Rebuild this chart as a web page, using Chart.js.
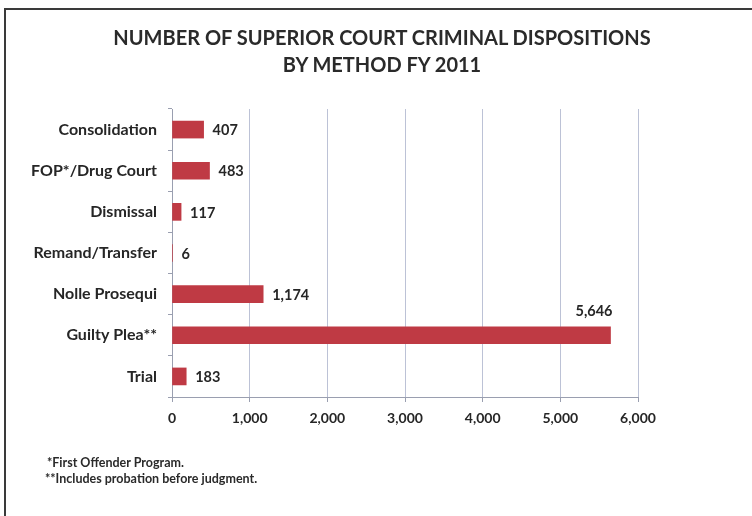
<!DOCTYPE html>
<html>
<head>
<meta charset="utf-8">
<script src="https://cdn.jsdelivr.net/npm/chart.js@4"></script>
<style>
    html, body { margin: 0; padding: 0; background: #fff; }
    #wrap { position: relative; width: 752px; height: 516px; overflow: hidden; }
    #frame { position: absolute; left: 4px; top: 8px; width: 800px; height: 520px;
             border-left: 2px solid #3a3a3a; border-top: 2px solid #3a3a3a; }
    canvas { position: absolute; left: 0; top: 0; }
    #title { position: absolute; left: 82px; width: 600px; top: 24px; text-align: center;
             font-family: Lato, sans-serif; font-weight: bold; font-size: 20px; line-height: 27px;
             color: #2a2a2a; white-space: nowrap; }
    .note { position: absolute; font-family: Lato, sans-serif; font-weight: bold;
            font-size: 12.5px; color: #2a2a2a; white-space: nowrap; }
</style>
</head>
<body>
<div id="wrap">
    <div id="frame"></div>
    <canvas id="courtChart" width="752" height="516"></canvas>
    <div id="title">NUMBER OF SUPERIOR COURT CRIMINAL DISPOSITIONS<br>BY METHOD FY 2011</div>
    <div class="note" style="left:47px; top:455px;">*First Offender Program.</div>
    <div class="note" style="left:45px; top:471px;">**Includes probation before judgment.</div>
</div>
<script>
// --- Data ---
const categories = ['Consolidation', 'FOP*/Drug Court', 'Dismissal', 'Remand/Transfer', 'Nolle Prosequi', 'Guilty Plea**', 'Trial'];
const dispositions = [407, 483, 117, 6, 1174, 5646, 183];
const xTicks = [0, 1000, 2000, 3000, 4000, 5000, 6000];

const barColor = '#bf3a44';
const textColor = '#262626';
const gridColor = '#bcc2d6';

// Value labels at the end of each bar (the long bar gets its label above)
const valueLabels = {
    id: 'valueLabels',
    afterDatasetsDraw(chart) {
        const ctx = chart.ctx;
        const meta = chart.getDatasetMeta(0);
        ctx.save();
        ctx.font = 'bold 14.5px Lato, sans-serif';
        ctx.fillStyle = textColor;
        ctx.textBaseline = 'middle';
        meta.data.forEach((bar, i) => {
            const text = dispositions[i].toLocaleString('en-US');
            if (dispositions[i] > 5000) {
                ctx.textAlign = 'right';
                ctx.fillText(text, bar.x + 2, bar.y - 24);
            } else {
                ctx.textAlign = 'left';
                ctx.fillText(text, bar.x + 9, bar.y + 1);
            }
        });
        ctx.restore();
    }
};

const ctx = document.getElementById('courtChart').getContext('2d');
new Chart(ctx, {
    type: 'bar',
    data: {
        labels: categories,
        datasets: [{
            data: dispositions,
            backgroundColor: barColor,
            barThickness: 17
        }]
    },
    options: {
        indexAxis: 'y',
        responsive: false,
        animation: false,
        layout: { padding: { top: 109, right: 114, bottom: 79, left: 0 } },
        plugins: {
            legend: { display: false },
            tooltip: { enabled: false },
            title: { display: false }
        },
        scales: {
            x: {
                min: 0,
                max: 6000,
                afterBuildTicks: (scale) => { scale.ticks = xTicks.map(v => ({ value: v })); },
                afterFit: (scale) => { scale.height = 40; },
                grid: { color: gridColor, tickLength: 5, tickColor: '#9a9fb0' },
                border: { color: '#9a9fb0' },
                ticks: {
                    color: textColor,
                    padding: 8,
                    font: { family: 'Lato, sans-serif', size: 14, weight: 'bold' },
                    callback: (v) => v.toLocaleString('en-US')
                }
            },
            y: {
                afterFit: (scale) => { scale.width = 172; },
                grid: { offset: true, drawOnChartArea: false, tickLength: 4, tickColor: '#9a9fb0' },
                border: { color: '#9a9fb0' },
                ticks: {
                    color: textColor,
                    padding: 11,
                    font: { family: 'Lato, sans-serif', size: 16, weight: 'bold' }
                }
            }
        }
    },
    plugins: [valueLabels]
});
</script>
</body>
</html>
